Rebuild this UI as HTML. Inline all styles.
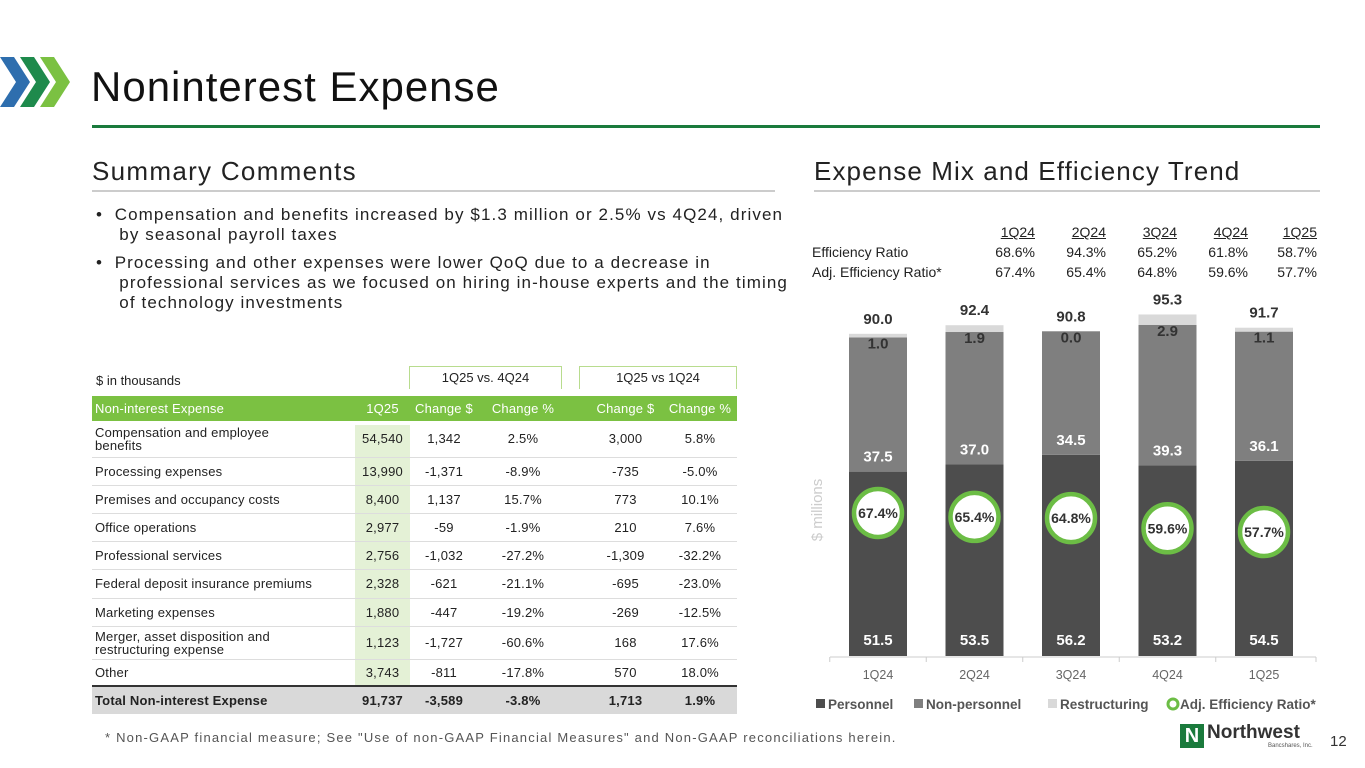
<!DOCTYPE html>
<html><head><meta charset="utf-8"><style>
*{margin:0;padding:0;box-sizing:border-box}
body{width:1365px;height:768px;background:#fff;font-family:"Liberation Sans",sans-serif;color:#222;position:relative;overflow:hidden}
.a{position:absolute;white-space:nowrap}
table{border-collapse:collapse}
.t td{font-size:13px;letter-spacing:0.2px;color:#222}
</style></head><body>
<svg class="a" style="left:0;top:52px" width="72" height="60">
<polygon points="0,5 14,5 30,30 14,55 0,55 16,30" fill="#2e6eae"/>
<polygon points="20,5 34,5 50,30 34,55 20,55 36,30" fill="#1e8a4c"/>
<polygon points="40,5 54,5 70,30 54,55 40,55 56,30" fill="#7bc142"/>
</svg>
<div class="a" style="left:91px;top:63px;font-size:42px;letter-spacing:1px;color:#111">Noninterest Expense</div>
<div class="a" style="left:92px;top:125px;width:1228px;height:3px;background:#1a7a3c"></div>
<div class="a" style="left:92px;top:156px;font-size:26px;letter-spacing:1.3px;color:#222">Summary Comments</div>
<div class="a" style="left:92px;top:190px;width:683px;height:2px;background:#ccc"></div>
<div class="a" style="left:814px;top:156px;font-size:26px;letter-spacing:1.1px;color:#222">Expense Mix and Efficiency Trend</div>
<div class="a" style="left:814px;top:190px;width:506px;height:2px;background:#ccc"></div>
<div class="a" style="left:96px;top:205px;font-size:17px;letter-spacing:1.1px;line-height:20px;color:#222">•&nbsp;&nbsp;Compensation and benefits increased by $1.3 million or 2.5% vs 4Q24, driven<br>&nbsp;&nbsp;&nbsp;&nbsp;by seasonal payroll taxes</div>
<div class="a" style="left:96px;top:253px;font-size:17px;letter-spacing:1.1px;line-height:20px;color:#222">•&nbsp;&nbsp;Processing and other expenses were lower QoQ due to a decrease in<br>&nbsp;&nbsp;&nbsp;&nbsp;professional services as we focused on hiring in-house experts and the timing<br>&nbsp;&nbsp;&nbsp;&nbsp;of technology investments</div>

<div class="a" style="left:96px;top:373px;font-size:13px">$ in thousands</div>
<div class="a" style="left:409px;top:366px;width:153px;height:23px;border:1px solid #b8dc8e;border-bottom:none;font-size:13px;text-align:center;line-height:22px">1Q25 vs. 4Q24</div>
<div class="a" style="left:579px;top:366px;width:158px;height:23px;border:1px solid #b8dc8e;border-bottom:none;font-size:13px;text-align:center;line-height:22px">1Q25 vs 1Q24</div>
<div class="a" style="left:355px;top:425px;width:55px;height:262px;background:#e4f1d6"></div>
<table class="a t" style="left:92px;top:396px;width:645px">
<colgroup><col style="width:263px"><col style="width:55px"><col style="width:68px"><col style="width:90px"><col style="width:95px"><col style="width:74px"></colgroup>
<tr style="background:#7bc142;height:25px"><td style="color:#fff;padding-left:3px">Non-interest Expense</td><td style="color:#fff;text-align:center">1Q25</td><td style="color:#fff;text-align:center">Change $</td><td style="color:#fff;text-align:center">Change %</td><td style="color:#fff;text-align:center;padding-left:20px">Change $</td><td style="color:#fff;text-align:center">Change %</td></tr>
</table>
<script>
const rows=[["Compensation and employee<br>benefits","54,540","1,342","2.5%","3,000","5.8%",36],["Processing expenses","13,990","-1,371","-8.9%","-735","-5.0%",28],["Premises and occupancy costs","8,400","1,137","15.7%","773","10.1%",28],["Office operations","2,977","-59","-1.9%","210","7.6%",28],["Professional services","2,756","-1,032","-27.2%","-1,309","-32.2%",28],["Federal deposit insurance premiums","2,328","-621","-21.1%","-695","-23.0%",29],["Marketing expenses","1,880","-447","-19.2%","-269","-12.5%",28],["Merger, asset disposition and<br>restructuring expense","1,123","-1,727","-60.6%","168","17.6%",33],["Other","3,743","-811","-17.8%","570","18.0%",27]];
const tb=document.querySelector('.t');
rows.forEach(r=>{const tr=document.createElement('tr');


tr.style.height=r[6]+'px';tr.style.borderBottom='1px solid #ddd';
tr.innerHTML=`<td style="padding-left:3px;line-height:13px">${r[0]}</td><td style="text-align:center">${r[1]}</td><td style="text-align:center">${r[2]}</td><td style="text-align:center">${r[3]}</td><td style="text-align:center;padding-left:20px">${r[4]}</td><td style="text-align:center">${r[5]}</td>`;tb.appendChild(tr);});
const tt=document.createElement('tr');


tt.style.cssText='height:28px;background:#d9d9d9;border-top:2px solid #333;font-weight:bold';
tt.innerHTML='<td style="padding-left:3px;font-weight:bold">Total Non-interest Expense</td><td style="text-align:center;font-weight:bold">91,737</td><td style="text-align:center;font-weight:bold">-3,589</td><td style="text-align:center;font-weight:bold">-3.8%</td><td style="text-align:center;padding-left:20px;font-weight:bold">1,713</td><td style="text-align:center;font-weight:bold">1.9%</td>';
tb.appendChild(tt);
</script>
<div class="a" style="left:105px;top:730px;font-size:13px;letter-spacing:1.2px;color:#555">* Non-GAAP financial measure; See "Use of non-GAAP Financial Measures" and Non-GAAP reconciliations herein.</div>

<table class="a" style="left:812px;top:222px;font-size:14px;color:#222;line-height:20px">
<tr><td style="width:160px"></td><td style="width:63px;text-align:right;text-decoration:underline">1Q24</td><td style="width:71px;text-align:right;text-decoration:underline">2Q24</td><td style="width:71px;text-align:right;text-decoration:underline">3Q24</td><td style="width:71px;text-align:right;text-decoration:underline">4Q24</td><td style="width:69px;text-align:right;text-decoration:underline">1Q25</td></tr>
<tr><td>Efficiency Ratio</td><td style="text-align:right">68.6%</td><td style="text-align:right">94.3%</td><td style="text-align:right">65.2%</td><td style="text-align:right">61.8%</td><td style="text-align:right">58.7%</td></tr>
<tr><td>Adj. Efficiency Ratio*</td><td style="text-align:right">67.4%</td><td style="text-align:right">65.4%</td><td style="text-align:right">64.8%</td><td style="text-align:right">59.6%</td><td style="text-align:right">57.7%</td></tr>
</table>

<svg class="a" style="left:0;top:0" width="1365" height="768" id="ch"></svg>
<script>
const quarters=["1Q24","2Q24","3Q24","4Q24","1Q25"];
const personnel=[51.5,53.5,56.2,53.2,54.5];
const nonPersonnel=[37.5,37.0,34.5,39.3,36.1];
const restructuring=[1.0,1.9,0.0,2.9,1.1];
const totals=[90.0,92.4,90.8,95.3,91.7];
const adjEff=[67.4,65.4,64.8,59.6,57.7];
const NS='http://www.w3.org/2000/svg',svg=document.getElementById('ch');
const base=656,ppu=3.58,x0=878,step=96.5,bw=58;
const y=v=>base-v*ppu, xc=i=>x0+i*step, ye=v=>513+(67.4-v)*1.96;
function el(t,a,txt){const e=document.createElementNS(NS,t);for(const k in a)e.setAttribute(k,a[k]);if(txt!==undefined)e.textContent=txt;svg.appendChild(e);return e;}
const ax=el('line',{x1:830,x2:1316,y1:657,y2:657,stroke:'#ccc'});


quarters.forEach((q,i)=>{
 const cx=xc(i),l=cx-bw/2;
 el('line',{x1:cx-step/2,x2:cx-step/2,y1:657,y2:662,stroke:'#ccc'});
 const p1=y(personnel[i]),p2=y(personnel[i]+nonPersonnel[i]),p3=y(personnel[i]+nonPersonnel[i]+restructuring[i]);
 const b1=el('rect',{x:l,y:p1,width:bw,height:base-p1,fill:'#4d4d4d'});
 
 
 const b2=el('rect',{x:l,y:p2,width:bw,height:p1-p2,fill:'#7f7f7f'});
 
 
 const b3=el('rect',{x:l,y:p3,width:bw,height:Math.max(p2-p3,0),fill:'#d9d9d9'});
 
 
 el('text',{x:cx,y:645,'text-anchor':'middle','font-size':15,'font-weight':'bold',fill:'#fff'},personnel[i].toFixed(1));
 el('text',{x:cx,y:p1-10,'text-anchor':'middle','font-size':15,'font-weight':'bold',fill:'#fff'},nonPersonnel[i].toFixed(1));
 el('text',{x:cx,y:p2+11,'text-anchor':'middle','font-size':15,'font-weight':'bold',fill:'#333'},restructuring[i].toFixed(1));
 el('text',{x:cx,y:p3-10,'text-anchor':'middle','font-size':15,'font-weight':'bold',fill:'#333'},totals[i].toFixed(1));
 el('text',{x:cx,y:679,'text-anchor':'middle','font-size':12.5,fill:'#666'},q);
 const c=el('circle',{cx:cx,cy:ye(adjEff[i]),r:24,fill:'#fff',stroke:'#6cbd45','stroke-width':4.5});
 
 
 el('text',{x:cx,y:ye(adjEff[i])+5,'text-anchor':'middle','font-size':14,'font-weight':'bold',fill:'#333'},adjEff[i].toFixed(1)+'%');
});
el('line',{x1:1316,x2:1316,y1:657,y2:662,stroke:'#ccc'});
const yt=el('text',{x:0,y:0,transform:'translate(822,510) rotate(-90)','text-anchor':'middle','font-size':15,fill:'#ccc'},'$ millions');


const leg=[['Personnel','#4d4d4d',816],['Non-personnel','#7f7f7f',914],['Restructuring','#d9d9d9',1048]];
leg.forEach(l=>{el('rect',{x:l[2],y:699,width:9,height:9,fill:l[1]});const t=el('text',{x:l[2]+12,y:709,'font-size':13.5,'font-weight':'bold',fill:'#555'},l[0]);

});
el('circle',{cx:1173,cy:704,r:5,fill:'#fff',stroke:'#6cbd45','stroke-width':3});
const le=el('text',{x:1180,y:709,'font-size':13.5,'font-weight':'bold',fill:'#555'},'Adj. Efficiency Ratio*');


</script>
<div class="a" style="left:1180px;top:724px;width:24px;height:24px;background:#1a7a3c;color:#fff;font-weight:bold;font-size:20px;text-align:center;line-height:24px">N</div>
<div class="a" style="left:1207px;top:722px;font-size:19px;font-weight:bold;color:#333">Northwest</div>
<div class="a" style="left:1268px;top:743px;font-size:6px;color:#555">Bancshares, Inc.</div>
<div class="a" style="left:1330px;top:733px;font-size:15px;color:#333">12</div>
</body></html>
